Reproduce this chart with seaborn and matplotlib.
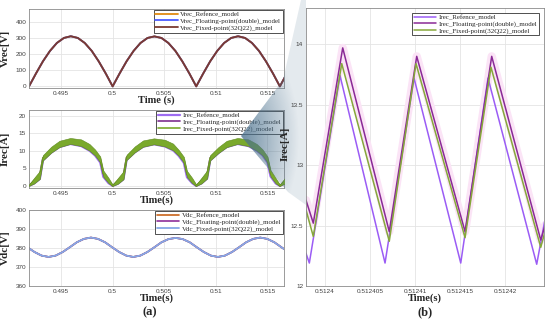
import numpy as np
import matplotlib
matplotlib.use("Agg")
import matplotlib.pyplot as plt
import seaborn as sns
from matplotlib.patches import Polygon

# ---------------- data ----------------
# (a) top: rectified grid voltage
vrec_t = [0.49190, 0.49258, 0.49325, 0.49393, 0.49460, 0.49528, 0.49595, 0.49663, 0.49730,
          0.49798, 0.49865, 0.49933, 0.50000, 0.50068, 0.50135, 0.50203, 0.50270, 0.50338,
          0.50405, 0.50473, 0.50540, 0.50608, 0.50675, 0.50743, 0.50810, 0.50878, 0.50945,
          0.51013, 0.51080, 0.51148, 0.51215, 0.51283, 0.51350, 0.51418, 0.51485, 0.51553,
          0.51620, 0.51688]
vrec_v = [0, 80.5, 155.5, 219.9, 269.3, 300.4, 311, 300.4, 269.3,
          219.9, 155.5, 80.5, 0, 80.5, 155.5, 219.9, 269.3, 300.4,
          310, 300.4, 269.3, 219.9, 155.5, 80.5, 0, 80.5, 155.5,
          219.9, 269.3, 300.4, 311, 300.4, 269.3, 219.9, 155.5, 80.5,
          0, 80.5]

# (a) middle: rectified current (fixed-point band + centre line)
irec_t = [0.49190, 0.49240, 0.49295, 0.49325, 0.49405, 0.49485, 0.49590, 0.49695, 0.49775,
          0.49830, 0.49880, 0.49910, 0.49960,
          0.50000, 0.50050, 0.50105, 0.50135, 0.50215, 0.50295, 0.50400, 0.50505, 0.50585,
          0.50640, 0.50690, 0.50720, 0.50770,
          0.50810, 0.50860, 0.50915, 0.50945, 0.51025, 0.51105, 0.51210, 0.51315, 0.51395,
          0.51450, 0.51500, 0.51530, 0.51580,
          0.51620, 0.51670]
irec_mid = [0, 1.5, 3.2, 8.0, 10.3, 12.0, 12.8, 12.3, 11.0, 9.5, 7.5, 3.5, 1.5,
            0, 1.4, 3.1, 8.1, 10.4, 12.1, 12.7, 12.2, 11.1, 9.4, 7.4, 3.4, 1.5,
            0, 1.5, 3.3, 8.0, 10.2, 12.0, 12.8, 12.3, 11.0, 9.6, 7.5, 3.6, 1.4,
            0, 1.5]
irec_lo = [0, 0.7, 2.0, 7.3, 9.5, 11.1, 12.0, 11.4, 10.1, 8.7, 6.7, 2.6, 0.8,
           0, 0.6, 1.9, 7.4, 9.6, 11.2, 11.9, 11.3, 10.2, 8.6, 6.6, 2.5, 0.8,
           0, 0.7, 2.1, 7.3, 9.4, 11.1, 12.0, 11.4, 10.1, 8.8, 6.7, 2.7, 0.7,
           0, 0.7]
irec_hi = [0.4, 2.3, 4.3, 8.8, 11.2, 12.9, 13.7, 13.3, 12.0, 10.4, 8.4, 4.4, 2.3,
           0.4, 2.2, 4.2, 8.9, 11.3, 13.0, 13.6, 13.2, 12.1, 10.3, 8.3, 4.3, 2.3,
           0.4, 2.3, 4.4, 8.8, 11.1, 12.9, 13.7, 13.3, 12.0, 10.5, 8.4, 4.5, 2.2,
           0.4, 2.3]

# (a) bottom: dc-link voltage
vdc_t = [0.48970, 0.49038, 0.49107, 0.49175, 0.49243, 0.49312, 0.49380, 0.49448, 0.49517,
         0.49585, 0.49653, 0.49722, 0.49790, 0.49858, 0.49927, 0.49995, 0.50063, 0.50132,
         0.50200, 0.50268, 0.50337, 0.50405, 0.50473, 0.50542, 0.50610, 0.50678, 0.50747,
         0.50815, 0.50883, 0.50952, 0.51020, 0.51088, 0.51157, 0.51225, 0.51293, 0.51362,
         0.51430, 0.51498, 0.51567, 0.51635, 0.51703]
vdc_v = [385.5, 384.8, 383.0, 380.4, 377.9, 376.0, 375.3, 376.0, 377.9,
         380.4, 383.0, 384.8, 385.5, 384.8, 383.0, 380.4, 377.9, 376.0,
         375.3, 376.0, 377.9, 380.4, 383.0, 384.7, 385.3, 384.7, 383.0,
         380.4, 377.9, 376.0, 375.3, 376.0, 377.9, 380.4, 383.0, 384.8,
         385.5, 384.8, 383.0, 380.4, 377.9]

# (b) zoomed current ripple, vertices of the triangle waves
zb_ref_t = [0.51239789, 0.51239826, 0.51240167, 0.51240667, 0.51240989,
            0.51241508, 0.51241811, 0.51242352, 0.51242444]
zb_ref_v = [12.27, 12.19, 13.74, 12.19, 13.72, 12.19, 13.72, 12.18, 12.55]
zb_flt_t = [0.51239789, 0.51239870, 0.51240197, 0.51240714, 0.51241019,
            0.51241556, 0.51241852, 0.51242397, 0.51242444]
zb_flt_v = [12.71, 12.52, 13.97, 12.45, 13.90, 12.45, 13.90, 12.38, 12.50]
zb_fix_t = [0.51239789, 0.51239870, 0.51240186, 0.51240714, 0.51241011,
            0.51241556, 0.51241844, 0.51242397, 0.51242444]
zb_fix_v = [12.63, 12.41, 13.84, 12.37, 13.84, 12.40, 13.81, 12.32, 12.45]

a_xticks = [0.495, 0.5, 0.505, 0.51, 0.515]
a_xticklabels = ["0.495", "0.5", "0.505", "0.51", "0.515"]
b_xticks = [0.5124, 0.512405, 0.51241, 0.512415, 0.51242]
b_xticklabels = ["0.5124", "0.512405", "0.51241", "0.512415", "0.51242"]

# ---------------- style ----------------
sns.set_theme(style="whitegrid")
plt.rcParams['font.family'] = ['Liberation Sans', 'DejaVu Sans']
SERIF = ['Liberation Serif', 'DejaVu Serif']

fig = plt.figure(figsize=(5.5, 3.25), dpi=100)
W, H = 550.0, 325.0


def add_ax(left, top, right, bottom):
    return fig.add_axes([left / W, 1 - bottom / H, (right - left) / W, (bottom - top) / H])


def style_ax(ax):
    ax.set_facecolor('white')
    ax.grid(True, color='#e4e4e4', linewidth=0.6)
    for s in ax.spines.values():
        s.set_color('#8a8a8a')
        s.set_linewidth(0.6)
    ax.tick_params(axis='both', direction='in', length=2, width=0.5, colors='#8a8a8a',
                   labelsize=4.6, labelcolor='#404040', pad=2)


def legend(ax, pad=0.15):
    leg = ax.legend(loc='upper right', bbox_to_anchor=(1, 1), borderaxespad=pad,
                    prop={'family': SERIF, 'size': 5}, frameon=True, fancybox=False,
                    edgecolor='#333333', framealpha=1, handlelength=3.2, handletextpad=0.4,
                    labelspacing=0.05, borderpad=0.25)
    leg.get_frame().set_linewidth(0.6)


XL = (0.4919, 0.5166)

# --- Vrec ---
ax1 = add_ax(29, 9, 284, 88)
style_ax(ax1)
sns.lineplot(x=vrec_t, y=vrec_v, ax=ax1, color='#e08a10', linewidth=1.3, label='Vrec_Refence_model', errorbar=None)
sns.lineplot(x=vrec_t, y=vrec_v, ax=ax1, color='#4a5cff', linewidth=1.3, label='Vrec_Floating-point(double)_model', errorbar=None)
sns.lineplot(x=vrec_t, y=vrec_v, ax=ax1, color='#7b3a30', linewidth=1.3, label='Vrec_Fixed-point(32Q22)_model', errorbar=None)
ax1.set_xlim(*XL)
ax1.set_ylim(-10, 480)
ax1.set_yticks([0, 100, 200, 300, 400])
ax1.set_xticks(a_xticks)
ax1.set_xticklabels(a_xticklabels)
ax1.set_ylabel('Vrec[V]', family=SERIF, fontsize=8, fontweight='bold')
ax1.yaxis.set_label_coords(-0.075, 0.5)
ax1.set_xlabel('Time (s)', family=SERIF, fontsize=7.5, fontweight='bold', labelpad=0)
legend(ax1)

# --- Irec ---
ax2 = add_ax(29, 110, 284, 188)
style_ax(ax2)
sns.lineplot(x=irec_t, y=irec_lo, ax=ax2, color='#9d6cf0', linewidth=1.6, label='Irec_Refence_model', errorbar=None)
sns.lineplot(x=irec_t, y=irec_mid, ax=ax2, color='#7e2f8e', linewidth=1.2, label='Irec_Floating-point(double)_model', errorbar=None)
ax2.fill_between(irec_t, irec_lo, irec_hi, color='#7aa92c', edgecolor='#5d8a1e', linewidth=0.4, zorder=3)
sns.lineplot(x=irec_t, y=irec_mid, ax=ax2, color='#7aa92c', linewidth=1.2, label='Irec_Fixed-point(32Q22)_model', errorbar=None)
ax2.set_xlim(*XL)
ax2.set_ylim(-0.6, 21.7)
ax2.set_yticks([0, 5, 10, 15, 20])
ax2.set_xticks(a_xticks)
ax2.set_xticklabels(a_xticklabels)
ax2.set_ylabel('Irec[A]', family=SERIF, fontsize=8, fontweight='bold')
ax2.yaxis.set_label_coords(-0.075, 0.5)
ax2.set_xlabel('Time(s)', family=SERIF, fontsize=7.5, fontweight='bold', labelpad=0)
legend(ax2)

# --- Vdc ---
ax3 = add_ax(29, 210, 284, 286)
style_ax(ax3)
sns.lineplot(x=vdc_t, y=vdc_v, ax=ax3, color='#c8641a', linewidth=1.2, label='Vdc_Refence_model', errorbar=None)
sns.lineplot(x=vdc_t, y=vdc_v, ax=ax3, color='#8e2f9a', linewidth=1.2, label='Vdc_Floating-point(double)_model', errorbar=None)
sns.lineplot(x=vdc_t, y=vdc_v, ax=ax3, color='#86a8e6', linewidth=1.3, label='Vdc_Fixed-point(32Q22)_model', errorbar=None)
ax3.set_xlim(*XL)
ax3.set_ylim(360, 400)
ax3.set_yticks([360, 370, 380, 390, 400])
ax3.set_xticks(a_xticks)
ax3.set_xticklabels(a_xticklabels)
ax3.set_ylabel('Vdc[V]', family=SERIF, fontsize=8, fontweight='bold')
ax3.yaxis.set_label_coords(-0.075, 0.5)
ax3.set_xlabel('Time(s)', family=SERIF, fontsize=7.5, fontweight='bold', labelpad=0)
legend(ax3)

# --- (b) zoom ---
ax4 = add_ax(306, 8, 544, 286)
ax4.set_zorder(11)
style_ax(ax4)
ax4.plot(zb_flt_t, zb_flt_v, color='#fbe4f6', linewidth=6, zorder=1.5)
sns.lineplot(x=zb_ref_t, y=zb_ref_v, ax=ax4, color='#9b5cf5', linewidth=1.1, label='Irec_Refence_model', errorbar=None)
sns.lineplot(x=zb_flt_t, y=zb_flt_v, ax=ax4, color='#8a2a96', linewidth=1.1, label='Irec_Floating-point(double)_model', errorbar=None)
sns.lineplot(x=zb_fix_t, y=zb_fix_v, ax=ax4, color='#86a83a', linewidth=1.1, label='Irec_Fixed-point(32Q22)_model', errorbar=None)
ax4.set_xlim(0.51239789, 0.51242433)
ax4.set_ylim(12, 14.3)
ax4.set_yticks([12, 12.5, 13, 13.5, 14])
ax4.set_yticklabels(['12', '12.5', '13', '13.5', '14'])
ax4.set_xticks(b_xticks)
ax4.set_xticklabels(b_xticklabels)
ax4.set_ylabel('Irec[A]', family=SERIF, fontsize=8, fontweight='bold')
ax4.yaxis.set_label_coords(-0.068, 0.51)
ax4.set_xlabel('Time(s)', family=SERIF, fontsize=7.5, fontweight='bold', labelpad=0)
legend(ax4, pad=0.7)

fig.text(150 / W, 1 - 312 / H, '(a)', family=SERIF, fontsize=9, fontweight='bold', ha='center', va='center')
fig.text(425 / W, 1 - 312 / H, '(b)', family=SERIF, fontsize=9, fontweight='bold', ha='center', va='center')

# --- zoom cone (gradient overlay) ---
cax = fig.add_axes([0, 0, 1, 1], zorder=10)
cax.set_xlim(0, W)
cax.set_ylim(H, 0)
cax.axis('off')
cax.patch.set_alpha(0)
cone = Polygon([(241, 136), (283, 80), (301, 0), (306, 0), (306, 205), (288, 192), (246, 142)],
               closed=True, transform=cax.transData, facecolor='none', edgecolor='none')
cax.add_patch(cone)
gx, gy = np.meshgrid(np.linspace(238, 306, 70), np.linspace(0, 210, 100))
dist = np.hypot(gx - 241, (gy - 138) * 0.55)
alpha = np.clip(0.8 - dist / 90.0, 0.15, 0.8)
img = np.zeros(gx.shape + (4,))
img[..., 0] = 0.30
img[..., 1] = 0.45
img[..., 2] = 0.56
img[..., 3] = alpha
im = cax.imshow(img, extent=(238, 306, 210, 0), origin='upper', aspect='auto', interpolation='bilinear')
im.set_clip_path(cone)

plt.savefig('out.png', dpi=100)
